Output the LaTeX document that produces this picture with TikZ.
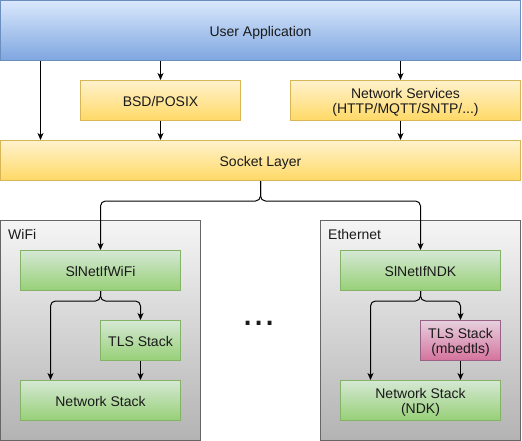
\documentclass[tikz,border=0pt]{standalone}
\usepackage{fontspec}
\setmainfont{Liberation Sans}
\usetikzlibrary{arrows.meta,calc}
\definecolor{blueT}{HTML}{DAE8FC}\definecolor{blueB}{HTML}{7EA6E0}\definecolor{blueL}{HTML}{6C8EBF}
\definecolor{yelT}{HTML}{FFF2CC}\definecolor{yelB}{HTML}{FFD966}\definecolor{yelL}{HTML}{D6B656}
\definecolor{grnT}{HTML}{D5E8D4}\definecolor{grnB}{HTML}{97D077}\definecolor{grnL}{HTML}{82B366}
\definecolor{pnkT}{HTML}{E6D0DE}\definecolor{pnkB}{HTML}{D5739D}\definecolor{pnkL}{HTML}{996185}
\definecolor{gryT}{HTML}{F5F5F5}\definecolor{gryB}{HTML}{B3B3B3}\definecolor{gryL}{HTML}{666666}
\definecolor{txt}{HTML}{1A1A1A}
\begin{document}
\begin{tikzpicture}[x=1pt,y=-1pt,
  box/.style={draw, line width=1pt, inner sep=0pt, align=center, text=txt,
    font=\fontsize{14}{15}\selectfont, text depth=0pt},
  one/.style={text height=12pt},
  bluebox/.style={box, top color=blueT, bottom color=blueB, draw=blueL},
  yelbox/.style={box, top color=yelT, bottom color=yelB, draw=yelL},
  grnbox/.style={box, top color=grnT, bottom color=grnB, draw=grnL},
  pnkbox/.style={box, top color=pnkT, bottom color=pnkB, draw=pnkL},
  grybox/.style={box, top color=gryT, bottom color=gryB, draw=gryL},
  lbl/.style={anchor=base west, inner sep=0pt, text=txt, font=\fontsize{14}{17}\selectfont},
  arr/.style={line width=1pt, -{Stealth[length=7pt,width=6pt,inset=2pt]}, rounded corners=5pt}
]
\useasboundingbox (0,0) rectangle (522,441);
% containers
\node[grybox, minimum width=200pt, minimum height=220pt] (wifi) at (100.5,330.5) {};
\node[grybox, minimum width=200pt, minimum height=220pt] (eth) at (420.5,330.5) {};
\node[lbl] (wifilbl) at (8,239) {WiFi};
\node[lbl] (ethlbl) at (328,239) {Ethernet};
% top
\node[bluebox, one, minimum width=520pt, minimum height=60pt] (app) at (260.5,30.5) {User Application};
\node[yelbox, one, minimum width=160pt, minimum height=40pt] (bsd) at (160.5,100.5) {BSD/POSIX};
\node[yelbox, minimum width=230pt, minimum height=40pt] (ns) at (405.5,100.5) {Network Services\\(HTTP/MQTT/SNTP/...)};
\node[yelbox, one, minimum width=520pt, minimum height=40pt] (sock) at (260.5,160.5) {Socket Layer};
% wifi stack
\node[grnbox, one, minimum width=160pt, minimum height=40pt] (wifiif) at (100.5,270.5) {SlNetIfWiFi};
\node[grnbox, one, minimum width=80pt, minimum height=40pt] (tlswifi) at (140.5,340.5) {TLS Stack};
\node[grnbox, one, minimum width=160pt, minimum height=40pt] (netwifi) at (100.5,400.5) {Network Stack};
% ethernet stack
\node[grnbox, one, minimum width=160pt, minimum height=40pt] (ndkif) at (420.5,270.5) {SlNetIfNDK};
\node[pnkbox, minimum width=80pt, minimum height=40pt] (tlsndk) at (460.5,340.5) {TLS Stack\\(mbedtls)};
\node[grnbox, minimum width=160pt, minimum height=40pt] (netndk) at (420.5,400.5) {Network Stack\\(NDK)};
% dots
\node[anchor=base, inner sep=0pt, text=txt, font=\fontsize{40}{40}\selectfont] (dots) at (259,325) {...};
% helper columns
\coordinate (c40) at (40.5,0);
\coordinate (c400) at (400.5,0);
\coordinate (c50) at (50.5,0);
\coordinate (c370) at (370.5,0);
% connectors
\draw[arr] (app.south -| c40) -- (sock.north -| c40);
\draw[arr] (app.south -| bsd) -- (bsd.north);
\draw[arr] (bsd.south) -- (sock.north -| bsd);
\draw[arr] (app.south -| c400) -- (ns.north -| c400);
\draw[arr] (ns.south -| c400) -- (sock.north -| c400);
\draw[arr] (sock.south) -- ++(0,20) -| (wifiif.north);
\draw[arr] (sock.south) -- ++(0,20) -| (ndkif.north);
\draw[arr] (wifiif.south) -- ++(0,10) -| (netwifi.north -| c50);
\draw[arr] (wifiif.south) -- ++(0,10) -| (tlswifi.north);
\draw[arr] (tlswifi.south) -- (netwifi.north -| tlswifi);
\draw[arr] (ndkif.south) -- ++(0,10) -| (netndk.north -| c370);
\draw[arr] (ndkif.south) -- ++(0,10) -| (tlsndk.north);
\draw[arr] (tlsndk.south) -- (netndk.north -| tlsndk);
\end{tikzpicture}
\end{document}
